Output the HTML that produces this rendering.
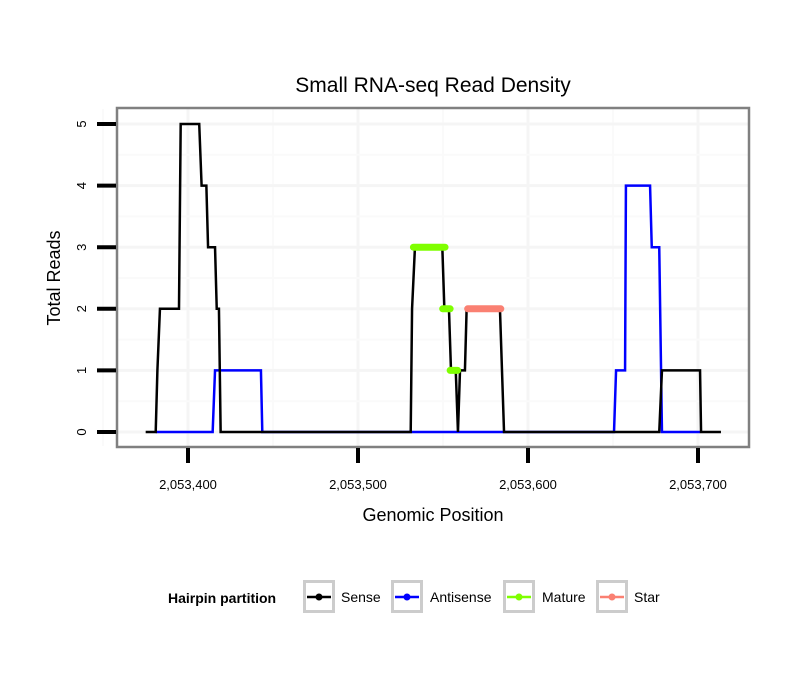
<!DOCTYPE html>
<html><head><meta charset="utf-8"><style>
body{margin:0;background:#fff}
svg text{font-family:"Liberation Sans",sans-serif}
</style></head><body>
<svg id="chart" width="810" height="690" xmlns="http://www.w3.org/2000/svg">
<rect x="0" y="0" width="810" height="690" fill="#fff"/>
<text x="433" y="92" text-anchor="middle" font-size="21">Small RNA-seq Read Density</text>
<g id="grid"></g>
<g id="series"></g>
<rect x="117" y="108" width="632" height="339" fill="none" stroke="#808080" stroke-width="2.5"/>
<g id="axes"></g>
<text x="433" y="521" text-anchor="middle" font-size="18">Genomic Position</text>
<text x="60" y="278" text-anchor="middle" font-size="18" transform="rotate(-90 60 278)">Total Reads</text>
<g id="legend">
<text x="168" y="603" font-size="14" font-weight="bold">Hairpin partition</text>
</g>
</svg>
<script>
const xTicks=[2053400,2053500,2053600,2053700];
const xTickLabels=["2,053,400","2,053,500","2,053,600","2,053,700"];
const yTicks=[0,1,2,3,4,5];
const senseX=[2053375.1,2053381,2053382,2053383.5,2053394.7,2053395.7,2053406.6,2053408,2053410.8,2053411.8,2053415.9,2053416.9,2053418.2,2053419.2,2053531,2053531.8,2053533.5,2053549.6,2053550.8,2053553.5,2053554.7,2053557.5,2053558.8,2053560,2053562.9,2053563.9,2053583.5,2053585.9,2053677.2,2053678.8,2053701.2,2053701.8,2053713.5];
const senseY=[0,0,1,2,2,5,5,4,4,3,3,2,2,0,0,2,3,3,2,2,1,1,0,1,1,2,2,0,0,1,1,0,0];
const antisenseX=[2053381,2053414.5,2053415.9,2053442.9,2053443.7,2053650.6,2053651.8,2053657.1,2053657.6,2053671.8,2053672.8,2053677.2,2053678.8,2053701.2];
const antisenseY=[0,0,1,1,0,0,1,1,4,4,3,3,0,0];
const matureSegX1=[2053532.6,2053549.8,2053554.2];
const matureSegX2=[2053551.2,2053554.2,2053558.6];
const matureSegY=[3,2,1];
const starSegX1=[2053564.5];
const starSegX2=[2053584];
const starSegY=[2];
const legendLabels=["Sense","Antisense","Mature","Star"];
const legendColors=["#000000","#0000ff","#7fff00","#fa8072"];

const NS="http://www.w3.org/2000/svg";
const xS=v=>188+(v-2053400)*1.7;
const yS=v=>432-v*61.6;
function mk(tag,attrs,parent){const e=document.createElementNS(NS,tag);for(const k in attrs)e.setAttribute(k,attrs[k]);parent.appendChild(e);return e;}
const grid=document.getElementById('grid'),series=document.getElementById('series'),axes=document.getElementById('axes'),legend=document.getElementById('legend');
for(let i=0;i<xTicks.length;i++){
 const g=mk('line',{x1:xS(xTicks[i]),x2:xS(xTicks[i]),y1:109,y2:446,stroke:'#f5f5f5','stroke-width':3},grid);
 
 
 const m=mk('line',{x1:xS(xTicks[i]-50),x2:xS(xTicks[i]-50),y1:109,y2:446,stroke:'#fafafa','stroke-width':2},grid);
 
 
}
for(let i=0;i<yTicks.length;i++){
 const g=mk('line',{x1:118,x2:748,y1:yS(yTicks[i]),y2:yS(yTicks[i]),stroke:'#f5f5f5','stroke-width':3},grid);
 
 
 if(yS(yTicks[i]+0.5)>110){
  const m=mk('line',{x1:118,x2:748,y1:yS(yTicks[i]+0.5),y2:yS(yTicks[i]+0.5),stroke:'#fafafa','stroke-width':2},grid);
  
  
 }
}
function poly(xs,ys,color,name){
 const p=mk('polyline',{points:xs.map((x,i)=>xS(x)+','+yS(ys[i])).join(' '),fill:'none',stroke:color,'stroke-width':2.5,'stroke-linejoin':'miter'},series);
 
 
}
poly(antisenseX,antisenseY,'#0000ff','antisense-line');
poly(senseX,senseY,'#000000','sense-line');
function segs(x1,x2,ys,color,name){
 for(let i=0;i<ys.length;i++){
  const l=mk('line',{x1:xS(x1[i]),x2:xS(x2[i]),y1:yS(ys[i]),y2:yS(ys[i]),stroke:color,'stroke-width':7,'stroke-linecap':'round'},series);
  
  
 }
}
segs(matureSegX1,matureSegX2,matureSegY,'#7fff00','mature-segment');
segs(starSegX1,starSegX2,starSegY,'#fa8072','star-segment');
for(let i=0;i<xTicks.length;i++){
 const t=mk('line',{x1:xS(xTicks[i]),x2:xS(xTicks[i]),y1:448,y2:463,stroke:'#000','stroke-width':4},axes);
 
 
 const tx=mk('text',{x:xS(xTicks[i]),y:489,'text-anchor':'middle','font-size':13},axes);
 tx.textContent=xTickLabels[i];
 
 
}
for(let i=0;i<yTicks.length;i++){
 const y=yS(yTicks[i]);
 const t=mk('line',{x1:97,x2:116,y1:y,y2:y,stroke:'#000','stroke-width':4},axes);
 
 
 const tx=mk('text',{x:86,y:y,'text-anchor':'middle','font-size':13,transform:'rotate(-90 86 '+y+')'},axes);
 tx.textContent=String(yTicks[i]);
 
 
}
const boxX=[303,391,503,596],textX=[341,430,542,634];
for(let i=0;i<legendLabels.length;i++){
 const b=mk('rect',{x:boxX[i]+1.5,y:581.5,width:29,height:30,fill:'#fff',stroke:'#cccccc','stroke-width':3},legend);
 
 
 const l=mk('line',{x1:boxX[i]+4,x2:boxX[i]+28,y1:597,y2:597,stroke:legendColors[i],'stroke-width':2.5},legend);
 
 
 const c=mk('circle',{cx:boxX[i]+16,cy:597,r:3.5,fill:legendColors[i]},legend);
 
 
 const t=mk('text',{x:textX[i],y:602,'font-size':14},legend);
 t.textContent=legendLabels[i];
 
 
}
</script>
</body></html>
